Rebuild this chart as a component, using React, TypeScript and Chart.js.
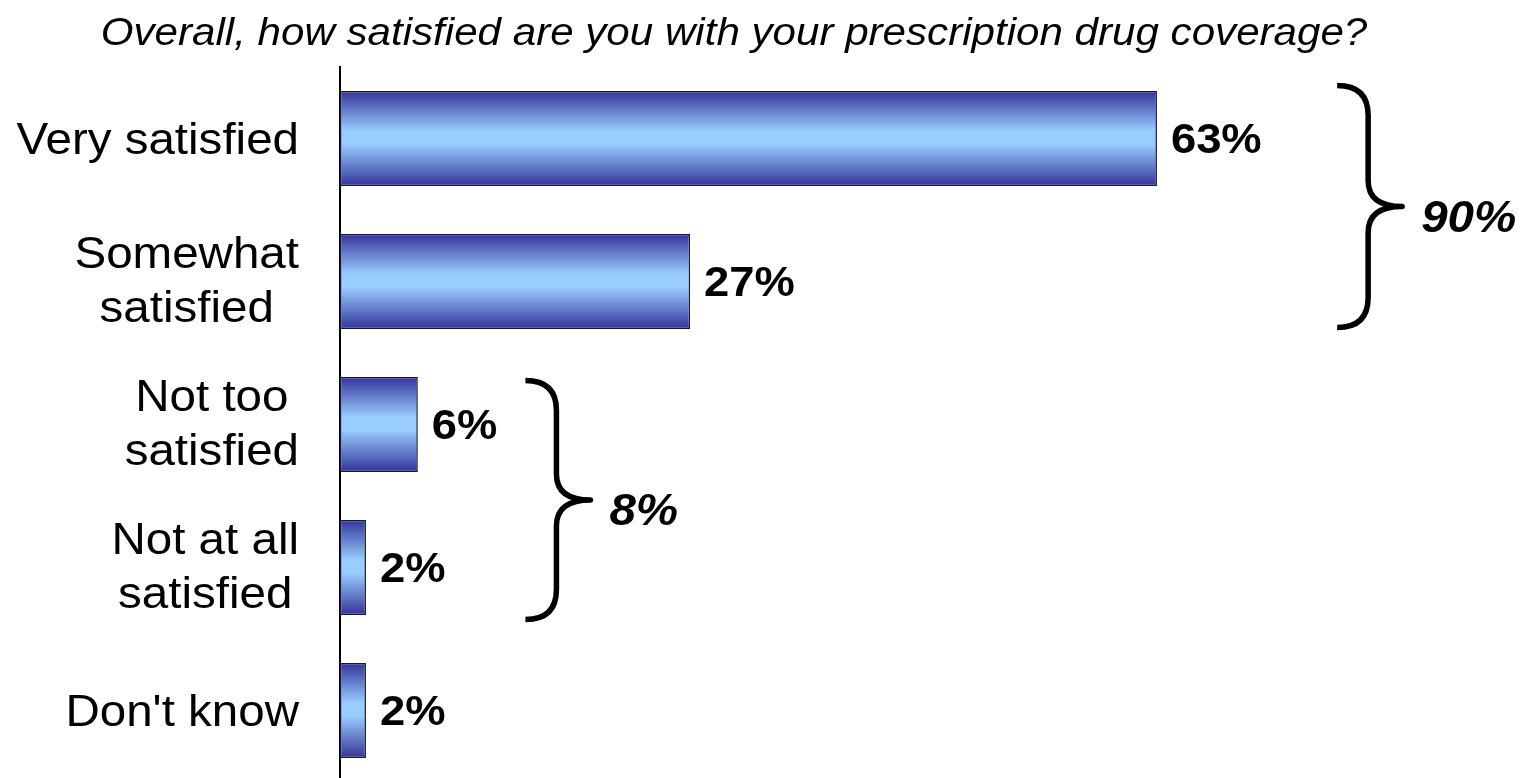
import React, { useEffect, useRef } from "react";
import { Chart, registerables } from "chart.js";

Chart.register(...registerables);

// ---------- data ----------
const TITLE = "Overall, how satisfied are you with your prescription drug coverage?";
const categories: string[][] = [
  ["Very satisfied"],
  ["Somewhat", "satisfied"],
  ["Not too", "satisfied"],
  ["Not at all", "satisfied"],
  ["Don't know"],
];
const values: number[] = [63, 27, 6, 2, 2];
const valueLabels: string[] = ["63%", "27%", "6%", "2%", "2%"];
const groupFirst: number[] = [0, 2];
const groupLast: number[] = [1, 3];
const groupLabels: string[] = ["90%", "8%"];

// ---------- style ----------
const W = 1530;
const H = 782;
const FONT = "'Liberation Sans', Arial, Helvetica, sans-serif";
const SX = 1.08; // horizontal text stretch
const BAR_PCT = 0.665;
const X_MAX = 90;
const BRACE_AT = [76.9, 14.3]; // value-axis position of brace left ends
const BRACE_TOP_OFF = [-53, -44];
const BRACE_BOT_OFF = [46, 52];

function drawText(
  ctx: CanvasRenderingContext2D,
  text: string,
  x: number,
  y: number,
  align: "left" | "right" | "center",
  font: string,
  baseline: CanvasTextBaseline = "middle"
) {
  ctx.save();
  ctx.font = font;
  ctx.textBaseline = baseline;
  ctx.textAlign = "left";
  ctx.fillStyle = "#000";
  const w = ctx.measureText(text).width * SX;
  const left = align === "left" ? x : align === "right" ? x - w : x - w / 2;
  ctx.translate(left, y);
  ctx.scale(SX, 1);
  ctx.fillText(text, 0, 0);
  ctx.restore();
}

function measure(ctx: CanvasRenderingContext2D, text: string, font: string) {
  ctx.save();
  ctx.font = font;
  const w = ctx.measureText(text).width * SX;
  ctx.restore();
  return w;
}

const overlayPlugin = {
  id: "overlay",
  afterDatasetsDraw(chart: any) {
    const ctx: CanvasRenderingContext2D = chart.ctx;
    const yScale = chart.scales.y;
    const xScale = chart.scales.x;
    const meta = chart.getDatasetMeta(0);

    // title
    drawText(ctx, TITLE, 734, 45, "center", `italic 39px ${FONT}`, "alphabetic");

    // category labels (block right-aligned, lines centred)
    const labFont = `44px ${FONT}`;
    categories.forEach((lines, i) => {
      const cy = yScale.getPixelForValue(i) + 3;
      const widths = lines.map((l) => measure(ctx, l, labFont));
      const bw = Math.max(...widths);
      const bc = 299 - bw / 2;
      if (lines.length === 1) {
        drawText(ctx, lines[0], bc, cy, "center", labFont);
      } else {
        drawText(ctx, lines[0], bc, cy - 29, "center", labFont);
        drawText(ctx, lines[1], bc, cy + 25, "center", labFont);
      }
    });

    // value labels
    meta.data.forEach((bar: any, i: number) => {
      drawText(ctx, valueLabels[i], bar.x + 14, bar.y + 3, "left", `bold 42px ${FONT}`);
    });

    // braces
    groupFirst.forEach((f, g) => {
      const l = groupLast[g];
      const top = yScale.getPixelForValue(f) + BRACE_TOP_OFF[g];
      const bot = yScale.getPixelForValue(l) + BRACE_BOT_OFF[g];
      const mid = (top + bot) / 2;
      const x0 = xScale.getPixelForValue(BRACE_AT[g]);
      const xv = x0 + 31;
      const xt = x0 + 65;
      const r = 30;
      const r2 = 26;
      ctx.save();
      ctx.strokeStyle = "#000";
      ctx.lineWidth = 5.5;
      ctx.lineCap = "butt";
      ctx.lineJoin = "round";
      ctx.beginPath();
      ctx.moveTo(x0, top);
      ctx.quadraticCurveTo(xv, top, xv, top + r);
      ctx.lineTo(xv, mid - r2);
      ctx.quadraticCurveTo(xv, mid, xt, mid);
      ctx.quadraticCurveTo(xv, mid, xv, mid + r2);
      ctx.lineTo(xv, bot - r);
      ctx.quadraticCurveTo(xv, bot, x0, bot);
      ctx.stroke();
      ctx.restore();
      drawText(ctx, groupLabels[g], xt + 19, mid + 13, "left", `italic bold 44px ${FONT}`);
    });
  },
};

export default function App() {
  const canvasRef = useRef<HTMLCanvasElement | null>(null);

  useEffect(() => {
    document.body.style.margin = "0";
    document.body.style.overflow = "hidden";
    const canvas = canvasRef.current;
    if (!canvas) return;

    const chart = new Chart(canvas, {
      type: "bar",
      data: {
        labels: categories.map((c) => c.join(" ")),
        datasets: [
          {
            data: values,
            backgroundColor: (c: any) => {
              const ch = c.chart;
              const ys = ch.scales && ch.scales.y;
              if (!ys || c.type !== "data") return "#99CCFF";
              const cy = ys.getPixelForValue(c.dataIndex);
              const half = ((ys.getPixelForValue(1) - ys.getPixelForValue(0)) * BAR_PCT) / 2;
              if (!isFinite(cy) || !isFinite(half)) return "#99CCFF";
              const gr = ch.ctx.createLinearGradient(0, cy - half, 0, cy + half);
              gr.addColorStop(0, "#333399");
              gr.addColorStop(0.42, "#99CCFF");
              gr.addColorStop(0.56, "#99CCFF");
              gr.addColorStop(1, "#333399");
              return gr;
            },
            borderColor: "#15153F",
            borderWidth: 1.5,
            borderSkipped: false,
            barPercentage: BAR_PCT,
            categoryPercentage: 1,
          },
        ],
      },
      options: {
        indexAxis: "y",
        responsive: false,
        maintainAspectRatio: false,
        devicePixelRatio: 1,
        animation: false,
        layout: { padding: { top: 67, right: 23, bottom: 0, left: 0 } },
        plugins: {
          legend: { display: false },
          tooltip: { enabled: false },
          title: { display: false },
        },
        scales: {
          x: {
            display: false,
            min: 0,
            max: X_MAX,
          },
          y: {
            display: true,
            grid: { display: false },
            border: { display: true, color: "#000", width: 2 },
            ticks: { display: false },
            afterFit: (scale: any) => {
              scale.width = 340;
            },
          },
        },
      },
      plugins: [overlayPlugin],
    } as any);

    return () => chart.destroy();
  }, []);

  return (
    <div style={{ width: W, height: H, position: "relative", background: "#fff" }}>
      <canvas ref={canvasRef} width={W} height={H} style={{ display: "block", width: W, height: H }} />
    </div>
  );
}
